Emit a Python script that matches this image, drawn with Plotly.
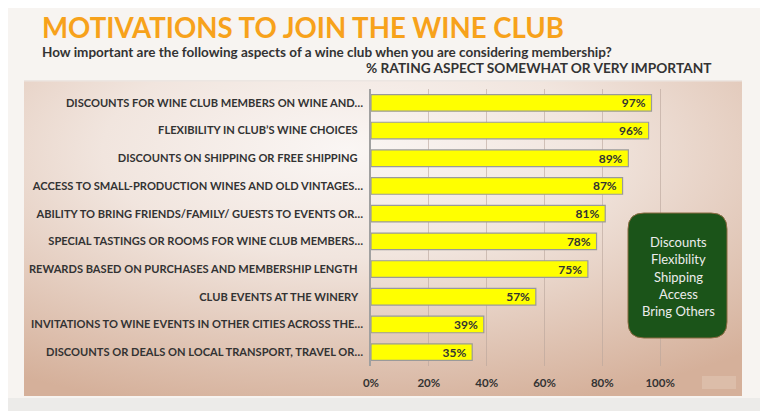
import base64
import plotly.graph_objects as go

# data (top to bottom)
aspects = [
    "DISCOUNTS FOR WINE CLUB MEMBERS ON WINE AND…",
    "FLEXIBILITY IN CLUB’S WINE CHOICES",
    "DISCOUNTS ON SHIPPING OR FREE SHIPPING",
    "ACCESS TO SMALL-PRODUCTION WINES AND OLD VINTAGES…",
    "ABILITY TO BRING FRIENDS/FAMILY/ GUESTS TO EVENTS OR…",
    "SPECIAL TASTINGS OR ROOMS FOR WINE CLUB MEMBERS…",
    "REWARDS BASED ON PURCHASES AND MEMBERSHIP LENGTH",
    "CLUB EVENTS AT THE WINERY",
    "INVITATIONS TO WINE EVENTS IN OTHER CITIES ACROSS THE…",
    "DISCOUNTS OR DEALS ON LOCAL TRANSPORT, TRAVEL OR…",
]
pct_important = [97, 96, 89, 87, 81, 78, 75, 57, 39, 35]
x_ticks = [0, 20, 40, 60, 80, 100, 120]
x_tick_labels = ["0%", "20%", "40%", "60%", "80%", "100%", ""]
box_lines = ["Discounts", "Flexibility", "Shipping", "Access", "Bring Others"]

# the page body has an 8px margin, so the figure is 8px smaller than the window
SW, SH, OFF = 768, 411, 8
W, H = SW - OFF, SH - OFF
# plot area in window pixels
PX0, PX1, PY0, PY1 = 371, 718, 89, 366
pw, ph = PX1 - PX0, PY1 - PY0

def px_x(p):
    return (p - PX0) / pw

def px_y(p):
    return (PY1 - p) / ph

FONT = "Lato"
DARK = "#333333"

# background: page, gradient panel, bottom strip (window coordinates)
svg = f"""<svg xmlns="http://www.w3.org/2000/svg" width="{SW}" height="{SH}" viewBox="0 0 {SW} {SH}" preserveAspectRatio="none">
<defs><radialGradient id="g" cx="0.45" cy="0.22" r="0.85">
<stop offset="0" stop-color="#faf6f4"/><stop offset="0.4" stop-color="#f1e5de"/>
<stop offset="1" stop-color="#d5b09a"/></radialGradient></defs>
<rect width="{SW}" height="{SH}" fill="#f7f4f1"/>
<rect x="24" y="80" width="718" height="316" fill="url(#g)"/>
<rect x="24" y="80" width="718" height="1.5" fill="#ece6e2"/>
<rect x="0" y="398" width="{SW}" height="13" fill="#ecebe9"/>
<rect x="702" y="376" width="34" height="13" fill="#dcbda9"/>
</svg>"""
bg_src = "data:image/svg+xml;base64," + base64.b64encode(svg.encode()).decode()

tick_text = [a if a.endswith("…") else a + "\u00a0\u00a0" for a in aspects]

fig = go.Figure(go.Bar(
    x=pct_important, y=aspects, orientation="h",
    marker=dict(color="#ffff00", line=dict(color="#9a9a9a", width=1.2)),
    width=0.6,
    text=[f"{v}%\u00a0" for v in pct_important],
    textposition="inside", insidetextanchor="end", constraintext="none",
    textfont=dict(family=FONT, size=12, color=DARK, weight="bold"),
))

fig.update_layout(
    width=W, height=H,
    margin=dict(l=PX0 - OFF, r=W - (PX1 - OFF), t=PY0 - OFF, b=H - (PY1 - OFF)),
    paper_bgcolor="#f7f4f1", plot_bgcolor="rgba(0,0,0,0)",
    showlegend=False,
    images=[dict(source=bg_src, xref="paper", yref="paper",
                 x=px_x(0), y=px_y(0), sizex=SW / pw, sizey=SH / ph,
                 xanchor="left", yanchor="top", sizing="stretch", layer="below")],
)

fig.update_xaxes(
    range=[0, 120], tickvals=x_ticks, ticktext=x_tick_labels,
    showgrid=True, gridcolor="rgba(185,165,155,0.6)", gridwidth=1,
    zeroline=False, showline=False, ticks="", ticklabelstandoff=8,
    tickfont=dict(family=FONT, size=11.5, color=DARK, weight="bold"),
)
fig.update_yaxes(
    categoryorder="array", categoryarray=aspects, autorange="reversed",
    tickvals=aspects, ticktext=tick_text,
    showline=True, linecolor="#a0a0a0", linewidth=1.5,
    showgrid=False, ticks="", ticklabelstandoff=4,
    tickfont=dict(family=FONT, size=11.1, color=DARK, weight="bold"),
)

# title block
fig.add_annotation(text="MOTIVATIONS TO JOIN THE WINE CLUB", xref="paper", yref="paper",
                   x=px_x(40), y=px_y(28), xanchor="left", yanchor="middle", showarrow=False,
                   font=dict(family=FONT, size=27.6, color="#f7a21b", weight="bold"))
fig.add_annotation(text="How important are the following aspects of a wine club when you are considering membership?",
                   xref="paper", yref="paper", x=px_x(40), y=px_y(52), xanchor="left", yanchor="middle",
                   showarrow=False, font=dict(family=FONT, size=13.5, color=DARK, weight="bold"))
fig.add_annotation(text="% RATING ASPECT SOMEWHAT OR VERY IMPORTANT", xref="paper", yref="paper",
                   x=px_x(714), y=px_y(67), xanchor="right", yanchor="middle", showarrow=False,
                   font=dict(family=FONT, size=13.7, color=DARK, weight="bold"))

# green rounded box
x0, x1, y0, y1, r = 628, 727, 213, 338, 16
pts = lambda a, b: f"{px_x(a)},{px_y(b)}"
path = (f"M {pts(x0 + r, y0)} L {pts(x1 - r, y0)} Q {pts(x1, y0)} {pts(x1, y0 + r)} "
        f"L {pts(x1, y1 - r)} Q {pts(x1, y1)} {pts(x1 - r, y1)} "
        f"L {pts(x0 + r, y1)} Q {pts(x0, y1)} {pts(x0, y1 - r)} "
        f"L {pts(x0, y0 + r)} Q {pts(x0, y0)} {pts(x0 + r, y0)} Z")
fig.add_shape(type="path", path=path, xref="paper", yref="paper",
              fillcolor="#1b5419", line=dict(color="#8a6a40", width=1))
for i, line in enumerate(box_lines):
    fig.add_annotation(text=line, xref="paper", yref="paper",
                       x=px_x(678), y=px_y(242 + 17.3 * i), xanchor="center", yanchor="middle",
                       showarrow=False, font=dict(family=FONT, size=13, color="#ececec"))

fig.write_html("out.html")
